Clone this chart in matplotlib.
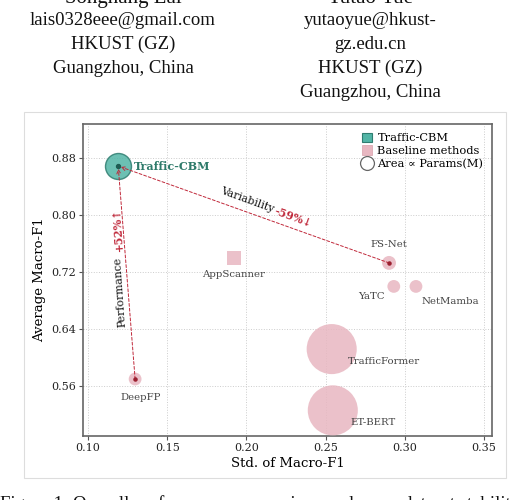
import matplotlib
matplotlib.use("Agg")
import matplotlib.pyplot as plt
from matplotlib.patches import Patch, Rectangle
from matplotlib.lines import Line2D

# ---- data ----
methods = ["Traffic-CBM", "AppScanner", "FS-Net", "YaTC", "NetMamba",
           "TrafficFormer", "ET-BERT", "DeepFP"]
std_f1 = [0.119, 0.192, 0.290, 0.293, 0.307, 0.2538, 0.2545, 0.1297]
avg_f1 = [0.869, 0.740, 0.733, 0.700, 0.700, 0.612, 0.526, 0.570]
params_m = [3.5, 1.0, 1.0, 0.85, 0.85, 13.0, 13.0, 0.85]   # relative size proxy
markers = ["o", "s", "o", "o", "o", "o", "o", "o"]
label_offsets = [(11, 0), (0, -12), (0, 13), (-16, -7), (25, -11),
                 (12, -9), (13, -9), (4, -13)]
label_ha = ["left", "center", "center", "center", "center", "left", "left", "center"]
xticks = [0.10, 0.15, 0.20, 0.25, 0.30, 0.35]
yticks = [0.56, 0.64, 0.72, 0.80, 0.88]

TEAL = "#52b5a6"
TEAL_EDGE = "#2f7d70"
TEAL_TXT = "#2e7a6a"
PINK = "#e8b7c1"
RED = "#c0283a"

fig = plt.figure(figsize=(5.1, 5.0), dpi=100)
W, H = 510, 500

# header text (paper page)
hdr = dict(family=["Liberation Serif", "DejaVu Serif"], fontsize=13.5,
           ha="center", va="baseline", color="#111111")
fig.text(123 / W, 1 - 3 / H, "Songhang Lai", **dict(hdr, fontsize=15))
fig.text(370 / W, 1 - 3 / H, "Yutao Yue", **dict(hdr, fontsize=15))
for i, t in enumerate(["lais0328eee@gmail.com", "HKUST (GZ)", "Guangzhou, China"]):
    fig.text(123 / W, 1 - (25 + 24 * i) / H, t, **hdr)
for i, t in enumerate(["yutaoyue@hkust-", "gz.edu.cn", "HKUST (GZ)", "Guangzhou, China"]):
    fig.text(370 / W, 1 - (25 + 24 * i) / H, t, **hdr)
fig.text(0 / W, 1 - 509 / H,
         "Figure 1: Overall performance comparison and cross-dataset stability",
         **dict(hdr, ha="left"))

# frame of the embedded figure
fig.add_artist(Rectangle((24 / W, 1 - 478 / H), (506 - 24) / W, (478 - 112) / H,
                         transform=fig.transFigure, fill=False,
                         edgecolor="#dddddd", lw=0.8))

ax = fig.add_axes([83 / W, 1 - 436 / H, (492 - 83) / W, (436 - 124) / H])
serif = ["DejaVu Serif"]

ax.set_xlim(0.0968, 0.355)
ax.set_ylim(0.49, 0.928)
ax.grid(True, linestyle=":", color="#cccccc", lw=0.7)
ax.set_axisbelow(True)

size_scale = 100.0
for i, m in enumerate(methods):
    s = params_m[i] * size_scale
    if i == 0:
        ax.scatter(std_f1[i], avg_f1[i], s=s, marker=markers[i], facecolor=TEAL,
                   edgecolor=TEAL_EDGE, lw=1.0, alpha=0.85, zorder=4)
        ax.scatter(std_f1[i], avg_f1[i], s=8, color="#1e5c52", zorder=5)
    else:
        ax.scatter(std_f1[i], avg_f1[i], s=s, marker=markers[i], facecolor=PINK,
                   edgecolor="none", alpha=0.85, zorder=3)

for i, m in enumerate(methods):
    if i == 0:
        ax.annotate(m, (std_f1[i], avg_f1[i]), xytext=label_offsets[i],
                    textcoords="offset points", ha=label_ha[i], va="center",
                    fontsize=8, fontweight="bold", color=TEAL_TXT, family=serif,
                    zorder=6)
    else:
        ax.annotate(m, (std_f1[i], avg_f1[i]), xytext=label_offsets[i],
                    textcoords="offset points", ha=label_ha[i], va="center",
                    fontsize=7.3, color="#444444", family=serif, zorder=6)

# comparison arrows
i_cbm = 0
for j in (methods.index("FS-Net"), methods.index("DeepFP")):
    ax.annotate("", xy=(std_f1[i_cbm], avg_f1[i_cbm]), xytext=(std_f1[j], avg_f1[j]),
                arrowprops=dict(arrowstyle="->", color=RED, lw=0.7,
                                linestyle=(0, (3, 2)), shrinkA=0, shrinkB=2,
                                mutation_scale=7), zorder=5)
    ax.scatter(std_f1[j], avg_f1[j], s=5, color="#9b2030", zorder=5)

ax.text(0.2006, 0.821, "Variability", rotation=-20, rotation_mode="anchor",
        ha="center", va="center", fontsize=7.8, family=serif, color="#111111")
ax.text(0.2295, 0.797, "-59%↓", rotation=-20, rotation_mode="anchor",
        ha="center", va="center", fontsize=7.8, fontweight="bold", family=serif,
        color=RED)
ax.text(0.1199, 0.692, "Performance", rotation=94, rotation_mode="anchor",
        ha="center", va="center", fontsize=7.8, family=serif, color="#111111")
ax.text(0.1186, 0.780, "+52%↑", rotation=94, rotation_mode="anchor",
        ha="center", va="center", fontsize=7.8, fontweight="bold", family=serif,
        color=RED)

ax.set_xticks(xticks)
ax.set_xticklabels([f"{v:.2f}" for v in xticks], family=serif, fontsize=8)
ax.set_yticks(yticks)
ax.set_yticklabels([f"{v:.2f}" for v in yticks], family=serif, fontsize=8)
ax.set_xlabel("Std. of Macro-F1", family=serif, fontsize=9.5, labelpad=3)
ax.set_ylabel("Average Macro-F1", family=serif, fontsize=9.5, labelpad=4)
ax.tick_params(length=3, width=0.8, color="#555555", labelcolor="#222222", pad=2)
for sp in ax.spines.values():
    sp.set_color("#666666")
    sp.set_linewidth(1.2)

handles = [Patch(facecolor=TEAL, edgecolor=TEAL_EDGE, lw=0.8),
           Patch(facecolor=PINK, edgecolor="#d9a0ab", lw=0.5),
           Line2D([], [], marker="o", ls="none", markersize=10,
                  markerfacecolor="white", markeredgecolor="#666666", mew=0.9)]
ax.legend(handles, ["Traffic-CBM", "Baseline methods", "Area ∝ Params(M)"],
          loc="upper right", frameon=False, prop=dict(family=serif, size=8.2),
          handlelength=0.9, handleheight=0.9, handletextpad=0.5,
          labelspacing=0.2, borderaxespad=0.35)

fig.savefig("out.png", dpi=100)
